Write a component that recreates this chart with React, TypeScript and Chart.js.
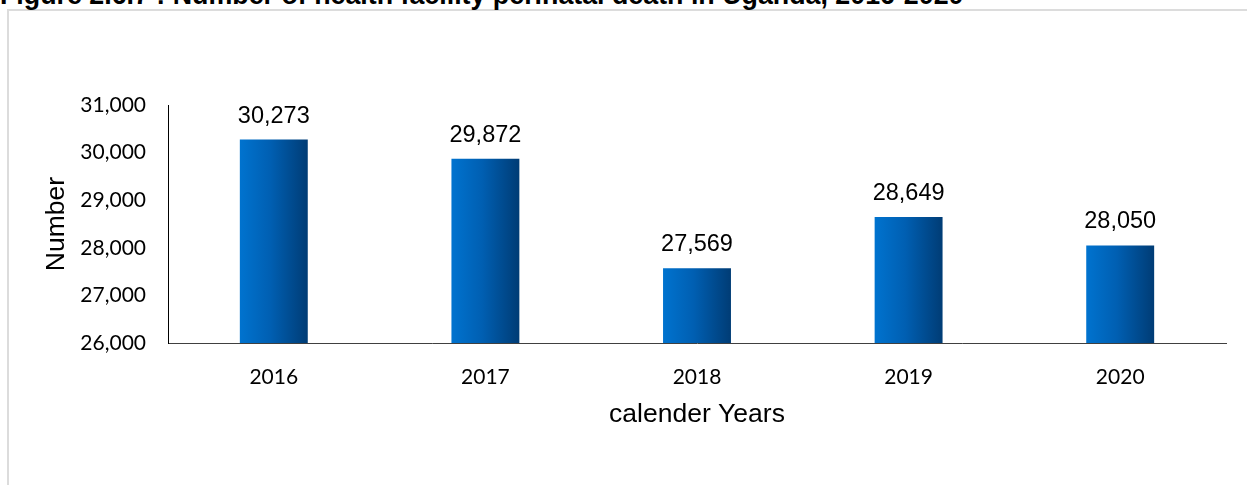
import React, { useEffect, useRef } from "react";
import { Chart, registerables } from "chart.js";

Chart.register(...registerables);

const years = ["2016", "2017", "2018", "2019", "2020"];
const deaths = [30273, 29872, 27569, 28649, 28050];
const yMin = 26000;
const yMax = 31000;
const yStep = 1000;
const titleText = "Figure 2.6.7 : Number of health facility perinatal death in Uganda, 2016-2020";
const yTitle = "Number";
const xTitle = "calender Years";

const BAR_PCT = 0.321;

const fmt = (v: number) => v.toLocaleString("en-US");

export default function App() {
  const ref = useRef<HTMLCanvasElement | null>(null);

  useEffect(() => {
    const canvas = ref.current;
    if (!canvas) return;

    const labelPlugin = {
      id: "barLabels",
      afterDatasetsDraw(chart: any) {
        const ctx = chart.ctx;
        const meta = chart.getDatasetMeta(0);
        ctx.save();
        ctx.font = "23.5px 'Liberation Sans', Arial, sans-serif";
        ctx.fillStyle = "#000000";
        ctx.textAlign = "center";
        ctx.textBaseline = "alphabetic";
        meta.data.forEach((el: any, i: number) => {
          ctx.fillText(fmt(deaths[i]), el.x, el.y - 17);
        });
        ctx.restore();
      },
    };

    const chart = new Chart(canvas, {
      type: "bar",
      data: {
        labels: years,
        datasets: [
          {
            data: deaths,
            barPercentage: BAR_PCT,
            categoryPercentage: 1,
            borderWidth: 0,
            backgroundColor: (c: any) => {
              const ch = c.chart;
              const sx = ch.scales && ch.scales.x;
              if (!sx || c.dataIndex === undefined) return "#005EB0";
              const cx = sx.getPixelForValue(c.dataIndex);
              const w = ((sx.right - sx.left) / years.length) * BAR_PCT;
              if (!isFinite(cx) || !isFinite(w)) return "#005EB0";
              const g = ch.ctx.createLinearGradient(cx - w / 2, 0, cx + w / 2, 0);
              g.addColorStop(0, "#0073CF");
              g.addColorStop(0.45, "#005FB2");
              g.addColorStop(1, "#003C75");
              return g;
            },
          },
        ],
      },
      options: {
        responsive: false,
        animation: false,
        layout: { padding: { left: 0, top: 105, right: 21, bottom: 0 } },
        plugins: {
          legend: { display: false },
          tooltip: { enabled: false },
          title: { display: false },
        },
        scales: {
          x: {
            grid: { display: false, drawTicks: false },
            border: { display: true, color: "#404040", width: 1 },
            ticks: {
              padding: 22,
              color: "#000000",
              font: { family: "Lato, 'Open Sans', sans-serif", size: 21 },
            },
            title: {
              display: true,
              text: xTitle,
              color: "#000000",
              font: { family: "'Liberation Sans', Arial, sans-serif", size: 26.5 },
              padding: { top: 0, bottom: 54 },
            },
            afterFit: (s: any) => {
              s.height = 142;
            },
          },
          y: {
            min: yMin,
            max: yMax,
            grid: { display: false, drawTicks: false },
            border: { display: true, color: "#000000", width: 1 },
            ticks: {
              stepSize: yStep,
              padding: 22,
              color: "#000000",
              font: { family: "Lato, 'Open Sans', sans-serif", size: 21 },
              callback: (v: any) => fmt(Number(v)),
            },
            title: {
              display: true,
              text: yTitle,
              color: "#000000",
              font: { family: "'Liberation Sans', Arial, sans-serif", size: 26.5 },
              padding: { top: 41, bottom: 0 },
            },
            afterFit: (s: any) => {
              s.width = 168;
            },
          },
        },
      },
      plugins: [labelPlugin],
    } as any);

    return () => chart.destroy();
  }, []);

  return (
    <div
      style={{
        position: "fixed",
        left: 0,
        top: 0,
        width: 1247,
        height: 485,
        overflow: "hidden",
        background: "#ffffff",
      }}
    >
      <div
        style={{
          position: "absolute",
          left: 7,
          top: 9,
          width: 1400,
          height: 700,
          borderLeft: "2px solid #dcdcdc",
          borderTop: "2px solid #dcdcdc",
        }}
      />
      <div
        style={{
          position: "absolute",
          left: 0,
          top: -18.5,
          whiteSpace: "nowrap",
          fontFamily: "'Liberation Sans', Arial, sans-serif",
          fontWeight: "bold",
          fontSize: 26.8,
          lineHeight: 1,
          color: "#000000",
        }}
      >
        {titleText}
      </div>
      <canvas
        ref={ref}
        width={1247}
        height={485}
        style={{ position: "absolute", left: 0, top: 0, width: 1247, height: 485 }}
      />
    </div>
  );
}
